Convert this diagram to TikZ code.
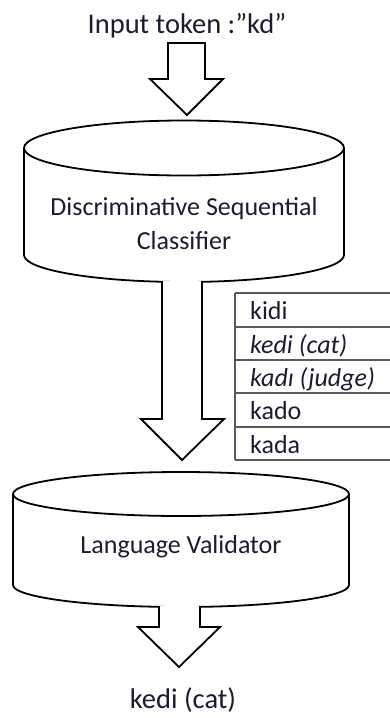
\documentclass[tikz,border=0pt]{standalone}
\usepackage{fontspec}
\setmainfont{Carlito}
\definecolor{txt}{RGB}{28,28,48}
\definecolor{tl}{RGB}{90,90,90}
\begin{document}
\begin{tikzpicture}[x=1pt,y=-1pt, line join=miter,
  blk/.style={draw=black, line width=1.8pt, fill=white},
  cyl/.style={draw=black, line width=1.8pt},
  big/.style={font=\fontsize{28.5}{34}\selectfont, text=txt, inner sep=0pt},
  mid/.style={font=\fontsize{26}{34}\selectfont, text=txt, inner sep=0pt, align=center},
  tline/.style={draw=tl, line width=1.3pt}]
\useasboundingbox (0,0) rectangle (390,718);

% input text
\node[big, anchor=base] (in) at (187,33) {Input token :”kd”};

% top block arrow
\draw[blk] (168,43) -- (205,43) -- (205,79) -- (223,79) -- (187,115) -- (150,79) -- (168,79) -- cycle;

% cylinder 1
\draw[cyl] (184,148) ellipse [x radius=160, y radius=27.5];
\draw[cyl] (24,148) -- (24,255) arc[start angle=180, end angle=0, x radius=160, y radius=27] -- (344,148);
\node[mid] (dsc) at (184,224) {Discriminative Sequential\\Classifier};

% middle block arrow
\draw[blk] (162,281) -- (162,419) -- (141,419) -- (182,460) -- (224,419) -- (202,419) -- (202,281);

% table of candidates
\foreach \y in {293,327,360,393,427,460} \draw[tline] (235,\y) -- (391,\y);
\draw[tline] (235,293) -- (235,460);
\node[mid, anchor=base west] (r1) at (250,319) {kidi};
\node[mid, anchor=base west] (r2) at (250,353) {\itshape kedi (cat)};
\node[mid, anchor=base west] (r3) at (250,386) {\itshape kadı (judge)};
\node[mid, anchor=base west] (r4) at (250,419) {kado};
\node[mid, anchor=base west] (r5) at (250,453) {kada};

% cylinder 2
\draw[cyl] (181,494) ellipse [x radius=168, y radius=22];
\draw[cyl] (13,494) -- (13,585) arc[start angle=180, end angle=0, x radius=168, y radius=22] -- (349,494);
\node[mid, anchor=base] (lv) at (181,553) {Language Validator};

% bottom block arrow
\draw[blk] (159,606) -- (159,627) -- (138,627) -- (179,667) -- (220,627) -- (200,627) -- (200,606);

% output
\node[big, anchor=base] (out) at (183,708) {kedi (cat)};
\end{tikzpicture}
\end{document}
